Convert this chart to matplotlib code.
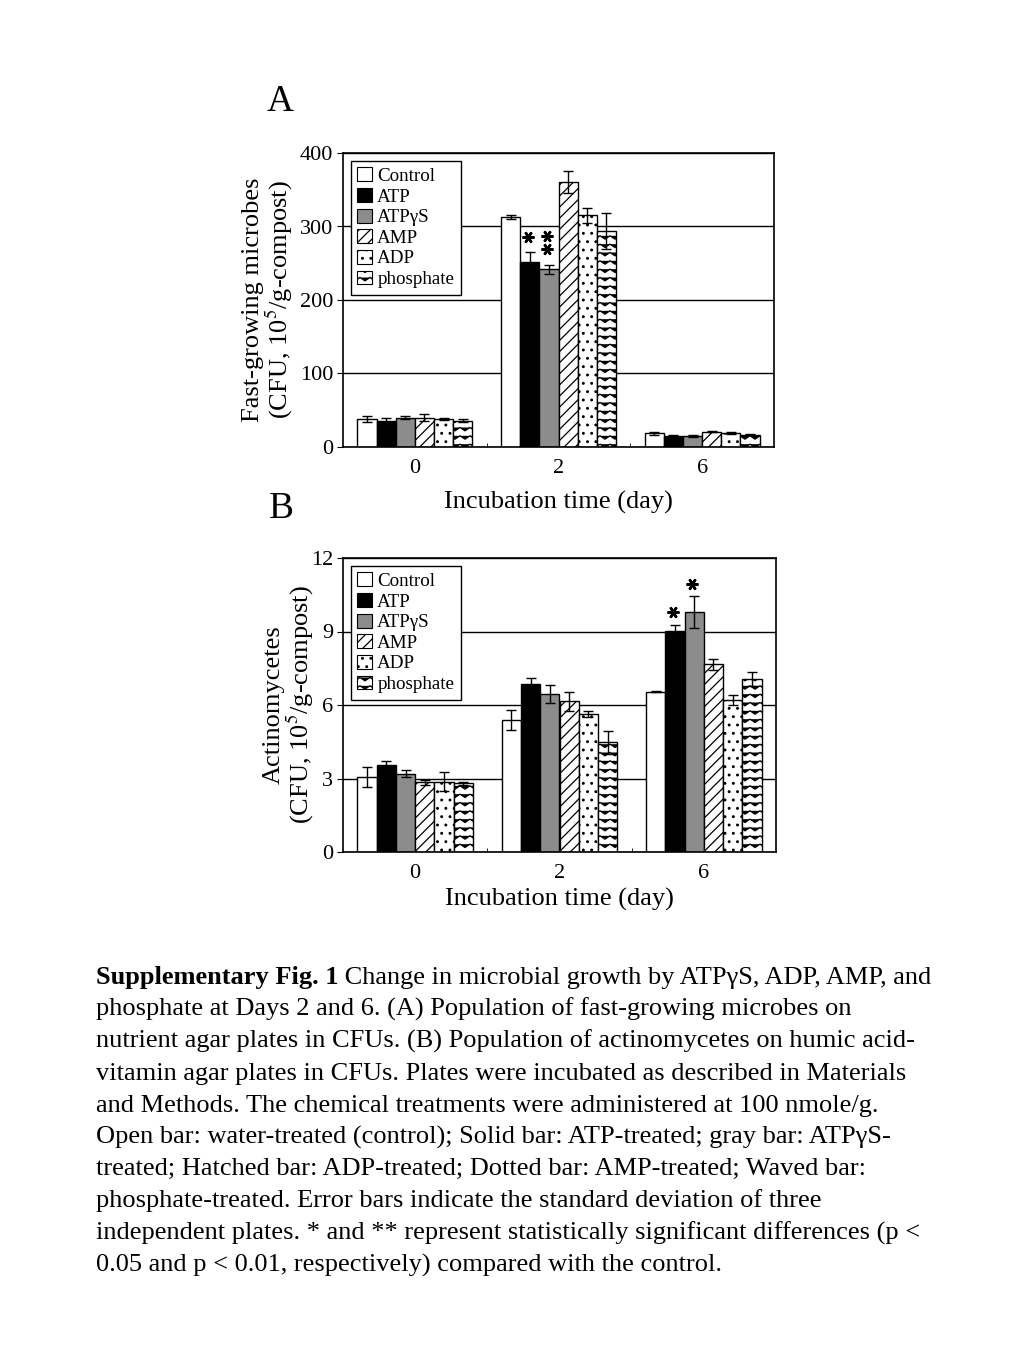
#Supplementary Fig. 1 - microbial growth under ATP analogues
#Two bar panels (A: fast-growing microbes, B: actinomycetes) plus caption

import warnings
import numpy as np
import matplotlib
matplotlib.use("Agg")
import matplotlib.pyplot as plt
import matplotlib.hatch as mhatch
import matplotlib.transforms as mtransforms
from matplotlib.path import Path
from matplotlib.patches import Patch

warnings.filterwarnings("ignore")

plt.rcParams['font.family'] = ['Liberation Serif', 'DejaVu Serif']
plt.rcParams['mathtext.fontset'] = 'stix'
plt.rcParams['hatch.linewidth'] = 0.9

#Data

days = ['0', '2', '6']
series = ['Control', 'ATP', 'ATP\u03b3S', 'AMP', 'ADP', 'phosphate']

fast_mean = {
    'Control':   [38, 313, 19],
    'ATP':       [36, 252, 15],
    'ATP\u03b3S': [40, 242, 15],
    'AMP':       [40, 360, 21],
    'ADP':       [38, 315, 19],
    'phosphate': [36, 294, 17],
}
fast_err = {
    'Control':   [4, 3, 2],
    'ATP':       [4, 13, 1],
    'ATP\u03b3S': [2, 6, 2],
    'AMP':       [5, 15, 1],
    'ADP':       [1, 10, 1],
    'phosphate': [2, 24, 1],
}

actino_mean = {
    'Control':   [3.05, 5.40, 6.55],
    'ATP':       [3.55, 6.85, 9.03],
    'ATP\u03b3S': [3.20, 6.45, 9.78],
    'AMP':       [2.85, 6.15, 7.66],
    'ADP':       [2.87, 5.62, 6.22],
    'phosphate': [2.80, 4.47, 7.06],
}
actino_err = {
    'Control':   [0.40, 0.40, 0.03],
    'ATP':       [0.15, 0.27, 0.25],
    'ATP\u03b3S': [0.13, 0.35, 0.65],
    'AMP':       [0.10, 0.40, 0.22],
    'ADP':       [0.38, 0.12, 0.20],
    'phosphate': [0.05, 0.47, 0.30],
}

#significance marks: (day index, series, number of stars)
fast_stars = [(1, 'ATP', 1), (1, 'ATP\u03b3S', 2)]
actino_stars = [(2, 'ATP', 1), (2, 'ATP\u03b3S', 1)]

caption_head = 'Supplementary Fig. 1'
caption_lines = [
    ' Change in microbial growth by ATP\u03b3S, ADP, AMP, and',
    'phosphate at Days 2 and 6. (A) Population of fast-growing microbes on',
    'nutrient agar plates in CFUs. (B) Population of actinomycetes on humic acid-',
    'vitamin agar plates in CFUs. Plates were incubated as described in Materials',
    'and Methods. The chemical treatments were administered at 100 nmole/g.',
    'Open bar: water-treated (control); Solid bar: ATP-treated; gray bar: ATP\u03b3S-',
    'treated; Hatched bar: ADP-treated; Dotted bar: AMP-treated; Waved bar:',
    'phosphate-treated. Error bars indicate the standard deviation of three',
    'independent plates. * and ** represent statistically significant differences (p <',
    '0.05 and p < 0.01, respectively) compared with the control.',
]

#Estilos de barras

styles = {
    'Control':   dict(color='white', hatch=None),
    'ATP':       dict(color='black', hatch=None),
    'ATP\u03b3S': dict(color='#8c8c8c', hatch=None),
    'AMP':       dict(color='white', hatch='///'),
    'ADP':       dict(color='white', hatch='..'),
    'phosphate': dict(color='white', hatch='ww'),
}


#zigzag hatch ('w') for the phosphate bars
class WaveHatch(mhatch.HatchPatternBase):
    def __init__(self, hatch, density):
        self.num_rows = hatch.count('w') * density
        self.num_cols = int(self.num_rows * 0.85)
        self.n = 2 * self.num_cols + 1
        self.num_vertices = self.num_rows * self.n

    def set_vertices_and_codes(self, vertices, codes):
        n = self.n
        xs = np.linspace(0, 1, n)
        amp = 0.4 / max(self.num_rows, 1)
        up = np.tile([1, 0], self.num_cols + 1)[:n] * amp
        for i in range(self.num_rows):
            vertices[i*n:(i+1)*n, 0] = xs
            vertices[i*n:(i+1)*n, 1] = (i + 0.3) / self.num_rows + up
            codes[i*n] = Path.MOVETO
            codes[i*n+1:(i+1)*n] = Path.LINETO


mhatch._hatch_types.append(WaveHatch)


def draw_panel(ax, means, errs, stars, ymax, yticks, star_off):
    x = np.arange(len(days))
    w = 0.8 / len(series)
    tops = {}
    for i, s in enumerate(series):
        pos = x + (i - 2.5) * w
        ax.bar(pos, means[s], w, color=styles[s]['color'], hatch=styles[s]['hatch'],
               edgecolor='black', linewidth=1.0, zorder=2)
        ax.errorbar(pos, means[s], yerr=errs[s], fmt='none', ecolor='black',
                    elinewidth=1.0, capsize=3.5, capthick=1.0, zorder=3)
        tops[s] = (pos, np.array(means[s]) + np.array(errs[s]))
    for d, s, n in stars:
        pos, top = tops[s]
        for k in range(n):
            tr = mtransforms.offset_copy(ax.transData, fig=ax.figure, x=-1.5,
                                         y=star_off + 9.6 * k, units='points')
            ax.plot(pos[d], top[d], marker=(6, 2, 90), markersize=8.5,
                    markeredgewidth=1.8, color='black', transform=tr,
                    clip_on=False, zorder=4)
    ax.set_xlim(-0.5, 2.5)
    ax.set_ylim(0, ymax)
    ax.set_yticks(yticks)
    ax.set_xticks(x)
    ax.set_xticklabels(days)
    ax.set_xticks([0.5, 1.5], minor=True)
    ax.yaxis.grid(True, color='black', linewidth=1.0)
    ax.set_axisbelow(True)
    ax.tick_params(axis='x', which='major', length=0, labelsize=16, pad=9)
    ax.tick_params(axis='x', which='minor', direction='in', length=3)
    ax.tick_params(axis='y', direction='out', length=4, labelsize=16, pad=3)
    for sp in ax.spines.values():
        sp.set_linewidth(1.2)
    handles = [Patch(facecolor=styles[s]['color'], hatch=styles[s]['hatch'],
                     edgecolor='black', linewidth=0.8, label=s) for s in series]
    leg = ax.legend(handles=handles, loc='upper left', fontsize=13.7,
                    handlelength=0.75, handleheight=0.75, handletextpad=0.3,
                    labelspacing=0.16, borderpad=0.35, borderaxespad=0.4,
                    fancybox=False, framealpha=1, edgecolor='black')
    leg.get_frame().set_linewidth(1.0)
    leg.set_zorder(5)


fig = plt.figure(figsize=(10.24, 13.65), dpi=100)

axA = fig.add_axes([343/1024, 1 - 447/1365, 431/1024, 294/1365])
draw_panel(axA, fast_mean, fast_err, fast_stars, 400, [0, 100, 200, 300, 400], 11)
axA.set_ylabel('Fast-growing microbes\n(CFU, 10$^{5}$/g-compost)', fontsize=19,
               linespacing=1.0)
axA.yaxis.set_label_coords(-0.111, 0.5)
axA.set_xlabel('Incubation time (day)', fontsize=19, labelpad=9)

axB = fig.add_axes([343/1024, 1 - 852/1365, 433/1024, 294/1365])
draw_panel(axB, actino_mean, actino_err, actino_stars, 12, [0, 3, 6, 9, 12], 9)
axB.set_ylabel('Actinomycetes\n(CFU, 10$^{5}$/g-compost)', fontsize=19,
               linespacing=1.0)
axB.yaxis.set_label_coords(-0.062, 0.5)
axB.set_xlabel('Incubation time (day)', fontsize=19, labelpad=3)

fig.text(280/1024, 1 - 102/1365, 'A', ha='center', va='center', fontsize=27)
fig.text(281/1024, 1 - 509/1365, 'B', ha='center', va='center', fontsize=27)

#Leyenda de la figura

x0 = 96 / 1024
base0 = 984
step = 31.9
head = fig.text(x0, 1 - base0/1365, caption_head, fontsize=19, fontweight='bold',
                va='baseline', ha='left')
fig.canvas.draw()
bb = head.get_window_extent(fig.canvas.get_renderer())
fig.text(bb.x1 / fig.bbox.width, 1 - base0/1365, caption_lines[0], fontsize=19,
         va='baseline', ha='left')
for i, line in enumerate(caption_lines[1:], start=1):
    fig.text(x0, 1 - (base0 + step * i)/1365, line, fontsize=19,
             va='baseline', ha='left')

fig.savefig('out.png', dpi=100)
